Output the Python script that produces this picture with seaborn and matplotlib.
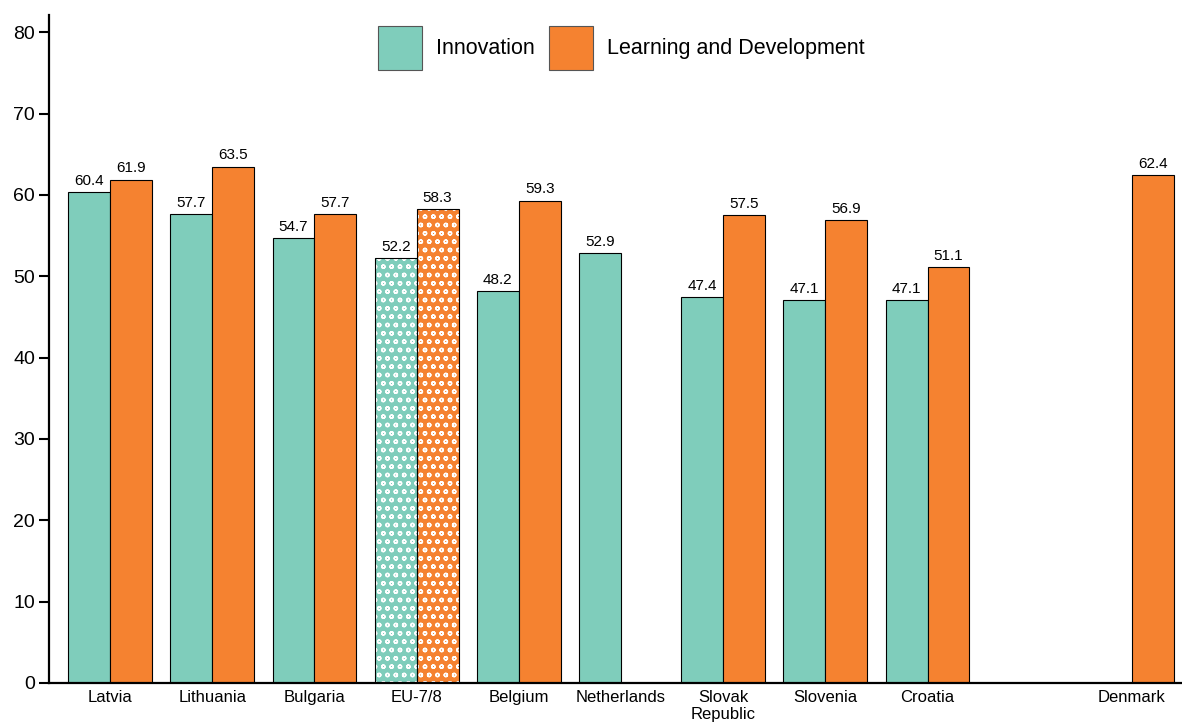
import matplotlib
matplotlib.use("Agg")
import matplotlib.pyplot as plt
from matplotlib.patches import Rectangle
import numpy as np
import pandas as pd
import seaborn as sns

countries = ["Latvia", "Lithuania", "Bulgaria", "EU-7/8", "Belgium", "Netherlands",
             "Slovak\nRepublic", "Slovenia", "Croatia", " ", "Denmark"]
innovation = [60.4, 57.7, 54.7, 52.2, 48.2, 52.9, 47.4, 47.1, 47.1, np.nan, np.nan]
learning = [61.9, 63.5, 57.7, 58.3, 59.3, np.nan, 57.5, 56.9, 51.1, np.nan, 62.4]
series = ["Innovation", "Learning and Development"]
colors = ["#7fcdbb", "#f58230"]
highlight = "EU-7/8"
y_ticks = [0, 10, 20, 30, 40, 50, 60, 70, 80]

sns.set_style("ticks")
plt.rcParams["font.family"] = ["Liberation Sans", "DejaVu Sans"]
for key in ["text.color", "axes.labelcolor", "xtick.color", "ytick.color", "axes.edgecolor"]:
    plt.rcParams[key] = "black"
plt.rcParams["hatch.linewidth"] = 1.0

df = pd.DataFrame({
    "country": countries * 2,
    "series": [series[0]] * len(countries) + [series[1]] * len(countries),
    "value": innovation + learning,
})

fig = plt.figure(figsize=(11.82, 7.25), dpi=100)
ax = fig.add_axes([0.0415, 0.058, 0.9585, 0.921])

sns.barplot(data=df, x="country", y="value", hue="series", order=countries,
            hue_order=series, palette=colors, width=0.82, saturation=1,
            edgecolor="black", linewidth=0.8, ax=ax, errorbar=None)

# value labels and dotted fill for the EU average group
hi_idx = countries.index(highlight)
for container in ax.containers:
    labels = []
    for bar in container:
        h = bar.get_height()
        labels.append("" if np.isnan(h) or h == 0 else f"{h:.1f}")
        center = bar.get_x() + bar.get_width() / 2
        if abs(center - hi_idx) < 0.5 and not np.isnan(h):
            bar.set_hatch("oo")
            bar.set_edgecolor("white")
            bar.set_linewidth(0)
            ax.add_patch(Rectangle((bar.get_x(), bar.get_y()), bar.get_width(), h,
                                   fill=False, edgecolor="black", linewidth=0.8,
                                   zorder=bar.get_zorder() + 0.1))
    ax.bar_label(container, labels=labels, padding=3, fontsize=11)

ax.set_ylim(0, 82.1)
ax.set_xlim(-0.597, 10.49)
ax.set_yticks(y_ticks)
ax.set_xlabel("")
ax.set_ylabel("")
ax.tick_params(axis="y", labelsize=14, length=7, width=1.5, direction="out", pad=3)
ax.tick_params(axis="x", labelsize=12, length=0, pad=5)
for s in ["top", "right"]:
    ax.spines[s].set_visible(False)
for s in ["left", "bottom"]:
    ax.spines[s].set_linewidth(1.6)

handles, lbls = ax.get_legend_handles_labels()
for h in handles:
    h.set_edgecolor("#555555")
leg = ax.legend(handles, lbls, loc="center", bbox_to_anchor=(0.505, 0.951),
                ncol=2, frameon=False, fontsize=15.5, handlelength=2.05,
                handleheight=2.77, handletextpad=0.65, columnspacing=0.65)

fig.savefig("out.png", dpi=100)
